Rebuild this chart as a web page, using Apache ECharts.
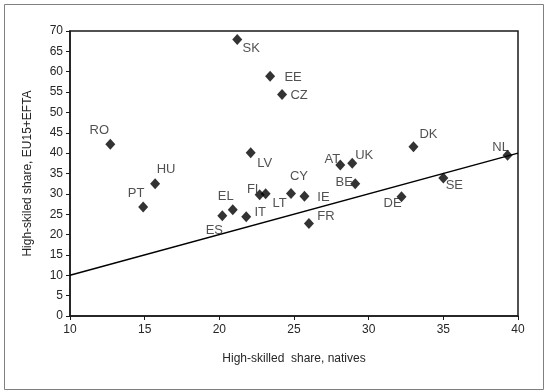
<!DOCTYPE html>
<html>
<head>
<meta charset="utf-8">
<script src="https://cdn.jsdelivr.net/npm/echarts@6/dist/echarts.min.js"></script>
<style>
  html, body { margin: 0; padding: 0; background: #fff; }
  #chart { width: 545px; height: 390px; }
</style>
</head>
<body>
<div id="chart"></div>
<script>
// ---- Data ----
var countries = ['SK','EE','CZ','RO','LV','DK','NL','AT','UK','HU','BE','SE','PT','FI','LT','CY','IE','DE','EL','ES','IT','FR'];
var nativesShare = [21.2, 23.4, 24.2, 12.7, 22.1, 33.0, 39.3, 28.1, 28.9, 15.7, 29.1, 35.0, 14.9, 22.7, 23.1, 24.8, 25.7, 32.2, 20.9, 20.2, 21.8, 26.0];
var eu15Share    = [67.9, 58.9, 54.4, 42.2, 40.1, 41.6, 39.5, 37.1, 37.5, 32.5, 32.5, 33.9, 26.8, 29.8, 30.0, 30.1, 29.4, 29.3, 26.1, 24.6, 24.4, 22.7];
var lineX = [10, 40];
var lineY = [10, 40];
var xTicks = [10, 15, 20, 25, 30, 35, 40];
var yTicks = [0, 5, 10, 15, 20, 25, 30, 35, 40, 45, 50, 55, 60, 65, 70];

// ---- Label placement (style only) ----
var labelOffset = {
  SK: [14, 9], EE: [23, 1], CZ: [17, 1], RO: [-11, -14], LV: [14, 11],
  DK: [15, -12], NL: [-7, -8], AT: [-8, -6], UK: [12, -8], HU: [11, -14],
  BE: [-11, -1], SE: [11, 7], PT: [-7, -13], FI: [-7, -5], LT: [14, 10],
  CY: [8, -17], IE: [19, 1], DE: [-9, 7], EL: [-7, -13], ES: [-8, 15],
  IT: [14, -4], FR: [17, -7]
};

var pts = countries.map(function (c, i) {
  return {
    name: c,
    value: [nativesShare[i], eu15Share[i]],
    label: { offset: labelOffset[c] || [0, 0] }
  };
});
var linePts = lineX.map(function (x, i) { return [x, lineY[i]]; });

var chart = echarts.init(document.getElementById('chart'), null, { renderer: 'canvas' });
var textColor = '#262626';
var axisColor = '#1a1a1a';
chart.setOption({
  animation: false,
  backgroundColor: '#fff',
  textStyle: { fontFamily: 'Liberation Sans, Arial, sans-serif' },
  graphic: [{
    type: 'rect', left: 2, top: 2,
    shape: { width: 539, height: 385 },
    style: { fill: 'none', stroke: '#808080', lineWidth: 1 },
    silent: true
  }],
  grid: { left: 70, right: 27, top: 31, bottom: 74, show: true, borderColor: axisColor, borderWidth: 1.5 },
  xAxis: {
    type: 'value', min: xTicks[0], max: xTicks[xTicks.length - 1], interval: 5,
    name: 'High-skilled  share, natives', nameLocation: 'middle', nameGap: 37,
    nameTextStyle: { color: textColor, fontSize: 12 },
    axisLine: { show: true, lineStyle: { color: axisColor, width: 1.5 } },
    axisTick: { show: true, length: 4, lineStyle: { color: axisColor } },
    axisLabel: { color: textColor, fontSize: 12, margin: 8 },
    splitLine: { show: false }
  },
  yAxis: {
    type: 'value', min: yTicks[0], max: yTicks[yTicks.length - 1], interval: 5,
    name: 'High-skiled share, EU15+EFTA', nameLocation: 'middle', nameGap: 36,
    nameTextStyle: { color: textColor, fontSize: 12 },
    axisLine: { show: true, lineStyle: { color: axisColor, width: 1.5 } },
    axisTick: { show: true, length: 4, lineStyle: { color: axisColor } },
    axisLabel: { color: textColor, fontSize: 12, margin: 7 },
    splitLine: { show: false }
  },
  series: [
    {
      type: 'line', data: linePts, symbol: 'none', silent: true,
      lineStyle: { color: '#000', width: 1.5 }, z: 1
    },
    {
      type: 'scatter', data: pts, symbol: 'diamond', symbolSize: [10, 11],
      itemStyle: { color: '#000' }, z: 2,
      label: {
        show: true, position: 'inside', formatter: '{b}',
        color: textColor, fontSize: 13, align: 'center', verticalAlign: 'middle'
      }
    }
  ]
});
</script>
</body>
</html>
